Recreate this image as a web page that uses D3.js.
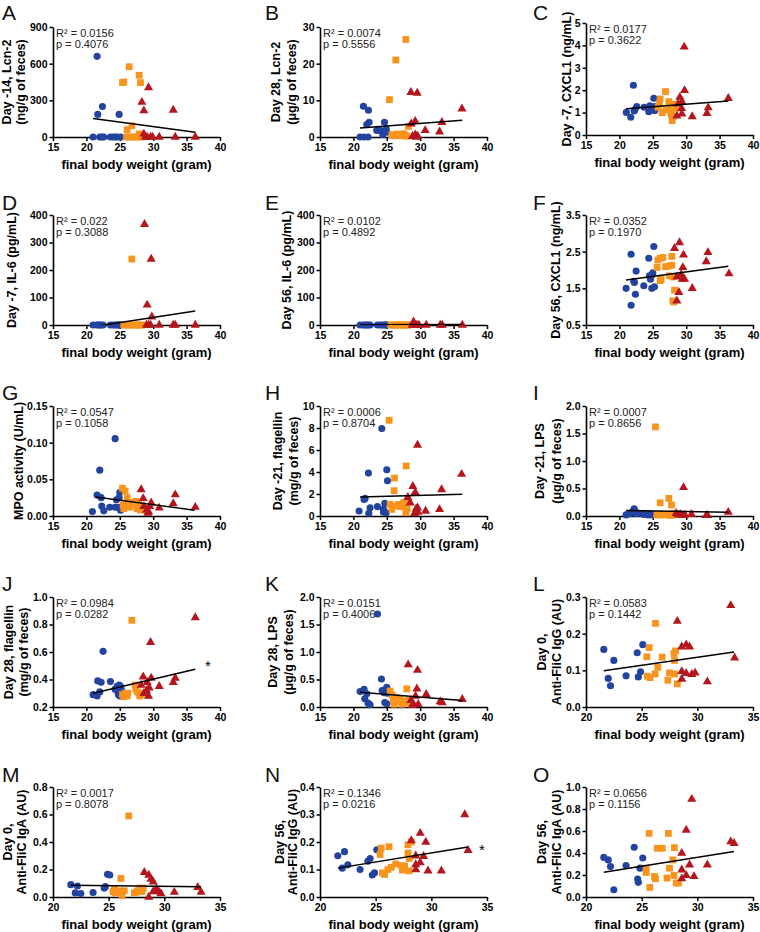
<!DOCTYPE html>
<html><head><meta charset="utf-8">
<script src="https://cdn.jsdelivr.net/npm/d3@7"></script>
<style>body{margin:0;background:#fff}</style>
</head><body><svg id="c" width="760" height="932"></svg>
<script>
// ---------------- DATA ----------------
const A_blue=[[21.6,660],[21.7,185],[22.4,250],[24.9,185],[21.0,0],[22.0,0],[22.3,0],[22.6,0],[23.6,0],[24.0,0],[24.3,0],[24.6,0],[25.1,0]];
const A_orange=[[26.4,575],[25.4,445],[25.6,450],[27.9,505],[28.1,445],[26.1,60],[26.8,92],[27.9,25],[28.1,18],[26.0,0],[26.4,0],[26.9,0],[27.3,0],[27.6,0],[28.3,0]];
const A_red=[[29.3,405],[28.3,285],[28.6,215],[33.0,220],[28.6,25],[28.8,0],[29.1,0],[29.6,0],[29.9,0],[30.9,0],[33.3,0],[36.3,0]];
const A_fit=[[21,152],[36.3,38]];

const B_blue=[[21.5,8.4],[22.25,7.3],[22.0,3.4],[22.35,4.0],[21.0,0],[21.6,0],[22.2,0],[23.5,1.8],[24.0,1.8],[24.65,4.0],[24.9,2.2],[25.0,1.3],[24.4,0.6]];
const B_orange=[[25.4,10.2],[26.35,21.0],[27.85,26.6],[28.25,2.9],[25.75,0.6],[26.15,0.3],[26.5,0.8],[26.85,0.6],[27.25,0.3],[27.5,0.9],[27.75,0.5],[28.0,0.2]];
const B_red=[[28.6,12.2],[29.55,12.0],[29.25,4.3],[28.65,3.6],[30.75,1.8],[32.9,1.4],[33.25,4.0],[36.25,7.7],[28.85,0.2],[29.25,0.6],[29.6,0.3],[29.4,0]];
const B_fit=[[21,2.46],[36.3,4.56]];

const C_blue=[[21.04,1.01],[21.7,0.79],[22.1,2.22],[22.2,1.07],[22.6,1.27],[23.7,1.24],[24.4,1.04],[24.55,1.3],[24.8,1.19],[24.9,1.12],[25.15,1.64],[25.2,1.27],[25.3,1.09],[22.3,1.12]];
const C_orange=[[26.1,1.61],[26.9,1.94],[25.8,1.24],[26.0,1.42],[26.4,1.0],[27.0,1.12],[27.4,1.49],[27.6,1.27],[27.7,1.0],[27.9,0.64],[28.0,0.82],[28.1,1.37],[27.8,0.9],[28.3,1.19]];
const C_red=[[29.7,3.93],[29.75,1.99],[29.05,1.69],[29.35,1.49],[28.6,0.85],[28.8,1.39],[29.3,1.19],[29.35,0.94],[30.9,0.82],[33.1,0.97],[33.3,1.22],[36.3,1.64]];
const C_fit=[[21,1.17],[36.3,1.52]];

const D_blue=[[21.0,0],[21.5,0],[21.8,0],[22.0,0],[22.2,0],[22.5,0],[23.6,0],[24.0,0],[24.3,0],[24.6,0],[24.8,0],[25.0,0],[25.1,0]];
const D_orange=[[26.8,240],[25.6,0],[26.0,0],[26.4,0],[26.8,0],[27.2,0],[27.6,0],[28.0,0],[28.3,0]];
const D_red=[[28.7,366],[29.7,240],[29.1,73],[29.8,30],[29.0,0],[29.3,0],[29.6,0],[30.9,0],[33.0,0],[33.3,0],[36.3,0]];
const D_fit=[[21,-6],[36.3,51]];

const E_blue=[[21.0,0],[21.5,0],[21.7,0],[22.0,0],[22.2,0],[22.5,0],[23.6,0],[24.0,0],[24.3,0],[24.6,0],[24.8,0],[25.0,0],[25.1,0]];
const E_orange=[[25.6,0],[25.9,0],[26.2,0],[26.5,0],[26.8,0],[27.1,0],[27.4,0],[27.7,0],[28.0,0],[28.3,0]];
const E_red=[[29.0,12],[28.8,0],[29.2,0],[29.5,0],[29.8,0],[30.9,0],[33.0,0],[33.3,0],[36.3,0]];
const E_fit=[[21,1],[36.3,2]];

const F_blue=[[21.0,1.5],[21.75,1.04],[21.75,2.43],[22.15,1.69],[22.25,1.66],[22.5,1.97],[22.4,1.34],[23.65,1.57],[24.4,2.32],[24.5,1.84],[24.65,1.75],[24.85,1.5],[25.0,1.92],[25.15,2.64],[25.25,1.54],[24.85,1.86]];
const F_orange=[[25.75,2.27],[25.65,2.07],[26.1,2.32],[26.5,2.34],[26.1,1.71],[26.9,2.09],[27.4,2.11],[27.85,2.13],[27.85,2.37],[27.5,1.84],[28.0,1.81],[28.25,1.45],[28.0,1.16],[28.15,1.13],[26.25,1.75]];
const F_red=[[28.25,2.59],[29.0,2.75],[29.6,2.41],[29.5,2.07],[28.6,1.81],[29.25,1.88],[29.4,1.75],[29.75,1.75],[28.9,1.39],[28.6,1.16],[30.9,1.5],[33.25,2.48],[33.0,2.23],[36.4,1.9]];
const F_fit=[[21,1.73],[36.3,2.1]];

const G_blue=[[20.9,0.006],[21.6,0.0285],[22.0,0.0625],[22.2,0.025],[22.3,0.0135],[22.6,0.007],[23.5,0.012],[24.3,0.1055],[24.3,0.012],[24.5,0.022],[24.8,0.012],[24.9,0.025],[25.0,0.032],[25.1,0.008]];
const G_orange=[[25.4,0.038],[25.5,0.015],[25.6,0.01],[25.8,0.034],[26.1,0.025],[26.2,0.018],[26.5,0.012],[26.8,0.015],[27.2,0.019],[27.4,0.02],[27.6,0.01],[27.8,0.017],[27.9,0.012],[28.1,0.008],[28.2,0.014]];
const G_red=[[28.2,0.036],[28.5,0.024],[28.6,0.013],[29.0,0.008],[29.2,0.004],[29.3,0.006],[29.5,0.013],[29.7,0.018],[30.9,0.011],[33.0,0.017],[33.3,0.029],[36.3,0.012]];
const G_fit=[[21.4,0.026],[36.2,0.008]];

const H_blue=[[20.85,0.45],[21.6,1.5],[21.75,1.6],[22.25,3.9],[22.3,0.25],[22.5,0.75],[23.6,0.85],[24.25,7.95],[24.5,0.35],[24.7,1.15],[25.0,4.2],[25.1,3.2],[24.9,0.3],[24.5,0.6]];
const H_orange=[[25.35,8.7],[26.15,3.45],[26.1,2.3],[27.9,4.55],[25.5,1.05],[25.75,0.6],[26.25,0.9],[26.75,1.05],[27.15,0.85],[27.5,1.2],[27.75,0.9],[27.85,0.3],[28.05,0.65],[28.05,1.35]];
const H_red=[[28.15,1.7],[28.5,1.2],[28.9,2.7],[29.25,2.15],[29.15,0.25],[29.4,0.65],[29.6,6.45],[29.6,0.75],[29.65,0.35],[30.8,0.45],[32.9,0.6],[33.2,2.4],[36.2,3.8]];
const H_fit=[[21,1.72],[36.3,1.97]];

const I_blue=[[21.0,0.02],[21.5,0.04],[21.8,0.06],[22.0,0.08],[22.2,0.13],[22.3,0.1],[22.5,0.04],[23.0,0.05],[23.6,0.03],[24.0,0.03],[24.3,0.02],[24.6,0.04],[24.9,0.02],[25.1,0.03]];
const I_orange=[[25.4,1.62],[26.1,0.24],[27.4,0.32],[27.8,0.2],[25.6,0.02],[26.0,0.02],[26.4,0.03],[26.8,0.02],[27.2,0.03],[27.6,0.01],[28.0,0.02],[28.2,0.05]];
const I_red=[[29.6,0.52],[28.5,0.05],[28.8,0.02],[29.1,0.03],[29.4,0.01],[29.8,0.02],[30.8,0.03],[33.0,0.01],[33.2,0.01],[36.3,0.07]];
const I_fit=[[21,0.1],[36.3,0.07]];

const J_blue=[[21.0,0.29],[21.6,0.28],[21.7,0.39],[22.0,0.31],[22.2,0.38],[22.5,0.605],[23.6,0.385],[24.3,0.33],[24.6,0.35],[24.7,0.31],[24.8,0.29],[24.9,0.36],[25.0,0.28],[25.1,0.35],[25.2,0.33]];
const J_orange=[[25.4,0.29],[25.6,0.275],[25.8,0.3],[26.1,0.28],[26.2,0.3],[26.8,0.83],[27.3,0.36],[27.4,0.33],[27.6,0.31],[27.9,0.3],[28.0,0.28],[28.2,0.29]];
const J_red=[[28.2,0.36],[28.5,0.42],[28.6,0.3],[29.0,0.32],[29.1,0.38],[29.3,0.28],[29.4,0.34],[29.6,0.67],[29.7,0.41],[30.9,0.35],[33.0,0.38],[33.3,0.41],[36.3,0.85]];
const J_fit=[[21,0.30],[36.3,0.475]];
const J_star=[38.2,0.51];

const K_blue=[[21.0,0.28],[21.6,0.32],[21.7,0.15],[22.0,0.24],[22.2,0.07],[22.5,0.04],[23.6,1.69],[24.2,0.51],[24.3,0.3],[24.6,0.26],[24.7,0.08],[24.9,0.33],[25.0,0.36],[25.1,0.25],[25.0,0.06]];
const K_orange=[[25.5,0.29],[25.8,0.22],[26.0,0.12],[26.1,0.05],[26.4,0.17],[26.8,0.1],[27.0,0.15],[27.3,0.05],[27.6,0.1],[27.9,0.08],[28.0,0.33],[28.2,0.12]];
const K_red=[[28.2,0.77],[28.6,0.12],[28.8,0.03],[29.0,0.05],[29.3,0.2],[29.5,0.33],[29.6,0.67],[29.7,0.05],[30.9,0.23],[33.0,0.1],[33.3,0.08],[36.3,0.14]];
const K_fit=[[21,0.27],[36.3,0.12]];

const L_blue=[[21.6,0.157],[22.0,0.078],[22.2,0.058],[22.5,0.127],[23.6,0.085],[24.6,0.148],[24.7,0.082],[24.9,0.096],[25.1,0.17]];
const L_orange=[[25.46,0.137],[25.5,0.084],[25.67,0.162],[25.76,0.08],[26.2,0.09],[26.24,0.228],[26.45,0.108],[26.84,0.136],[27.35,0.073],[27.5,0.093],[27.95,0.09],[27.9,0.146],[27.95,0.127],[28.04,0.153],[28.2,0.063]];
const L_red=[[28.2,0.234],[28.6,0.164],[28.6,0.076],[28.6,0.097],[29.0,0.17],[29.0,0.092],[29.3,0.164],[29.5,0.089],[29.8,0.093],[30.9,0.069],[33.0,0.277],[33.35,0.134]];
const L_fit=[[21.6,0.099],[33.3,0.150]];

const M_blue=[[21.6,0.09],[22.0,0.03],[22.2,0.08],[22.5,0.025],[23.6,0.033],[24.6,0.065],[24.7,0.075],[24.9,0.165],[25.1,0.16]];
const M_orange=[[25.4,0.04],[25.5,0.06],[25.6,0.03],[26.0,0.045],[26.1,0.135],[26.2,0.01],[26.4,0.045],[26.8,0.59],[27.3,0.03],[27.5,0.035],[27.6,0.045],[27.9,0.06],[28.0,0.04],[28.1,0.065],[27.8,0.065]];
const M_red=[[28.2,0.18],[28.6,0.16],[28.6,0.0],[28.8,0.13],[29.0,0.11],[29.0,0.04],[29.3,0.06],[29.5,0.04],[29.7,0.025],[30.9,0.035],[33.0,0.07],[33.3,0.035]];
const M_fit=[[21.6,0.085],[33.3,0.075]];

const N_blue=[[21.6,0.15],[22.0,0.105],[22.2,0.165],[22.5,0.117],[23.6,0.1],[24.3,0.13],[24.5,0.14],[24.7,0.08],[24.9,0.088],[25.1,0.172]];
const N_orange=[[25.4,0.155],[25.5,0.178],[25.6,0.088],[25.8,0.082],[26.1,0.1],[26.2,0.183],[26.4,0.108],[26.8,0.12],[27.3,0.114],[27.4,0.098],[27.6,0.112],[27.9,0.19],[27.9,0.16],[28.0,0.14],[28.0,0.095],[28.2,0.2]];
const N_red=[[28.2,0.205],[28.6,0.15],[28.6,0.1],[28.6,0.118],[29.0,0.232],[29.0,0.125],[29.3,0.148],[29.5,0.2],[29.7,0.095],[30.9,0.095],[33.0,0.3],[33.3,0.17]];
const N_fit=[[21.6,0.105],[33.3,0.182]];
const N_star=[34.55,0.18];

const O_blue=[[21.6,0.36],[22.0,0.337],[22.2,0.277],[22.5,0.066],[23.6,0.286],[24.33,0.452],[24.64,0.163],[24.7,0.133],[24.85,0.262],[25.1,0.355]];
const O_orange=[[25.4,0.262],[25.4,0.223],[25.67,0.578],[25.73,0.087],[26.15,0.187],[26.24,0.166],[26.4,0.443],[26.85,0.443],[27.27,0.172],[27.4,0.578],[27.5,0.262],[27.8,0.337],[27.94,0.449],[27.9,0.196],[28.1,0.127],[28.3,0.127]];
const O_red=[[28.6,0.398],[28.6,0.247],[28.6,0.166],[29.0,0.608],[29.0,0.196],[29.3,0.292],[29.5,0.889],[29.7,0.187],[30.9,0.292],[33.0,0.503],[33.3,0.488]];
const O_fit=[[21.6,0.226],[33.3,0.413]];

const xTicksWide=[15,20,25,30,35,40];
const xTicksNarrow=[20,25,30,35];
const xTitle='final body weight (gram)';

const panels=[
 {id:'A',xd:[15,40],xt:xTicksWide,yd:[0,900],yt:[0,300,600,900],yf:'d',yl:['Day -14, Lcn-2','(ng/g of feces)'],r2:'0.0156',p:'0.4076',b:A_blue,o:A_orange,r:A_red,fit:A_fit},
 {id:'B',xd:[15,40],xt:xTicksWide,yd:[0,30],yt:[0,10,20,30],yf:'d',yl:['Day 28, Lcn-2','(\u03bcg/g of feces)'],r2:'0.0074',p:'0.5556',b:B_blue,o:B_orange,r:B_red,fit:B_fit},
 {id:'C',xd:[15,40],xt:xTicksWide,yd:[0,5],yt:[0,1,2,3,4,5],yf:'d',yl:['Day -7, CXCL1 (ng/mL)'],r2:'0.0177',p:'0.3622',b:C_blue,o:C_orange,r:C_red,fit:C_fit},
 {id:'D',xd:[15,40],xt:xTicksWide,yd:[0,400],yt:[0,100,200,300,400],yf:'d',yl:['Day -7, IL-6 (pg/mL)'],r2:'0.022',p:'0.3088',b:D_blue,o:D_orange,r:D_red,fit:D_fit},
 {id:'E',xd:[15,40],xt:xTicksWide,yd:[0,400],yt:[0,100,200,300,400],yf:'d',yl:['Day 56, IL-6 (pg/mL)'],r2:'0.0102',p:'0.4892',b:E_blue,o:E_orange,r:E_red,fit:E_fit},
 {id:'F',xd:[15,40],xt:xTicksWide,yd:[0.5,3.5],yt:[0.5,1.5,2.5,3.5],yf:'.1f',yl:['Day 56, CXCL1 (ng/mL)'],r2:'0.0352',p:'0.1970',b:F_blue,o:F_orange,r:F_red,fit:F_fit},
 {id:'G',xd:[15,40],xt:xTicksWide,yd:[0,0.15],yt:[0,0.05,0.10,0.15],yf:'.2f',yl:['MPO activity (U/mL)'],r2:'0.0547',p:'0.1058',b:G_blue,o:G_orange,r:G_red,fit:G_fit},
 {id:'H',xd:[15,40],xt:xTicksWide,yd:[0,10],yt:[0,2,4,6,8,10],yf:'d',yl:['Day -21, flagellin','(mg/g of feces)'],r2:'0.0006',p:'0.8704',b:H_blue,o:H_orange,r:H_red,fit:H_fit},
 {id:'I',xd:[15,40],xt:xTicksWide,yd:[0,2],yt:[0,0.5,1,1.5,2],yf:'.1f',yl:['Day -21, LPS','(\u03bcg/g of feces)'],r2:'0.0007',p:'0.8656',b:I_blue,o:I_orange,r:I_red,fit:I_fit},
 {id:'J',xd:[15,40],xt:xTicksWide,yd:[0.2,1.0],yt:[0.2,0.4,0.6,0.8,1.0],yf:'.1f',yl:['Day 28, flagellin','(mg/g of feces)'],r2:'0.0984',p:'0.0282',b:J_blue,o:J_orange,r:J_red,fit:J_fit,star:J_star},
 {id:'K',xd:[15,40],xt:xTicksWide,yd:[0,2],yt:[0,0.5,1,1.5,2],yf:'.1f',yl:['Day 28, LPS','(\u03bcg/g of feces)'],r2:'0.0151',p:'0.4006',b:K_blue,o:K_orange,r:K_red,fit:K_fit},
 {id:'L',xd:[20,35],xt:xTicksNarrow,yd:[0,0.3],yt:[0,0.1,0.2,0.3],yf:'.1f',yl:['Day 0,','Anti-FliC IgG (AU)'],r2:'0.0583',p:'0.1442',b:L_blue,o:L_orange,r:L_red,fit:L_fit},
 {id:'M',xd:[20,35],xt:xTicksNarrow,yd:[0,0.8],yt:[0,0.2,0.4,0.6,0.8],yf:'.1f',yl:['Day 0,','Anti-FliC IgA (AU)'],r2:'0.0017',p:'0.8078',b:M_blue,o:M_orange,r:M_red,fit:M_fit},
 {id:'N',xd:[20,35],xt:xTicksNarrow,yd:[0,0.4],yt:[0,0.1,0.2,0.3,0.4],yf:'.1f',yl:['Day 56,','Anti-FliC IgG (AU)'],r2:'0.1346',p:'0.0216',b:N_blue,o:N_orange,r:N_red,fit:N_fit,star:N_star},
 {id:'O',xd:[20,35],xt:xTicksNarrow,yd:[0,1],yt:[0,0.2,0.4,0.6,0.8,1.0],yf:'.1f',yl:['Day 56,','Anti-FliC IgA (AU)'],r2:'0.0656',p:'0.1156',b:O_blue,o:O_orange,r:O_red,fit:O_fit}
];

// ---------------- LAYOUT ----------------
const colX=[53,320,586], colW=167;
const rowY=[27,215,406,597,787], rowH=110;
const letterX=[2,265,533], letterY=[20,210,400,591,782];
const ylOff={A:[-42,-28],B:[-40,-24],C:[-15],D:[-37],E:[-29],F:[-26],G:[-30],H:[-38,-22],I:[-42,-25],J:[-40,-25],K:[-43,-27],L:[-40,-25],M:[-41,-27],N:[-36,-23],O:[-40,-25]};
const override={C:{top:-4,h:2}};
const FONT='"Liberation Sans", Arial, Helvetica, sans-serif';
const COL={b:'#2343a0',o:'#f7941d',r:'#b5161e'};

const svg=d3.select('#c');
svg.append('rect').attr('width',760).attr('height',932).attr('fill','#fff');

panels.forEach((p,i)=>{
  const col=i%3,row=Math.floor(i/3);
  const ov=override[p.id]||{};
  const x0=colX[col], y0=rowY[row]+(ov.top||0), h=rowH+(ov.h||0);
  const x=d3.scaleLinear().domain(p.xd).range([x0,x0+colW]);
  const y=d3.scaleLinear().domain(p.yd).range([y0+h,y0]);
  const g=svg.append('g');

  svg.append('text').attr('x',letterX[col]).attr('y',letterY[row]).text(p.id)
    .attr('font-family',FONT).attr('font-size',21).attr('fill','#111');

  const ya=g.append('g').attr('transform',`translate(${x0},0)`)
    .call(d3.axisLeft(y).tickValues(p.yt).tickSize(3.5).tickSizeOuter(0).tickPadding(2).tickFormat(d3.format(p.yf)));
  const xa=g.append('g').attr('transform',`translate(0,${y0+h})`)
    .call(d3.axisBottom(x).tickValues(p.xt).tickSize(4).tickSizeOuter(0).tickPadding(2.5).tickFormat(d3.format('d')));
  [ya,xa].forEach(a=>{
    a.select('.domain').attr('stroke','#000').attr('stroke-width',1.6);
    a.selectAll('.tick line').attr('stroke','#000').attr('stroke-width',1.5);
    a.selectAll('.tick text').attr('font-family',FONT).attr('font-size',10.5).attr('font-weight','bold').attr('fill','#000');
  });

  g.append('text').attr('x',x0+colW/2).attr('y',y0+h+32).attr('text-anchor','middle')
    .attr('font-family',FONT).attr('font-size',13).attr('font-weight','bold').text(xTitle);
  const mid=y0+h/2;
  p.yl.forEach((t,k)=>{
    const xx=x0+ylOff[p.id][k];
    g.append('text').attr('x',xx).attr('y',mid).attr('text-anchor','middle')
      .attr('transform',`rotate(-90,${xx},${mid})`)
      .attr('font-family',FONT).attr('font-size',12.5).attr('font-weight','bold').text(t);
  });

  const st=g.append('g').attr('font-family',FONT).attr('font-size',11).attr('fill','#222');
  st.append('text').attr('x',x0+3).attr('y',y0+10).text('R\u00b2 = '+p.r2);
  st.append('text').attr('x',x0+3).attr('y',y0+21).text('p = '+p.p);

  const sym=(type,size)=>d3.symbol().type(type).size(size)();
  const groups=[[p.b,d3.symbolCircle,40,COL.b],[p.o,d3.symbolSquare,46,COL.o],[p.r,d3.symbolTriangle,36,COL.r]];
  groups.forEach(([data,type,size,c])=>{
    g.append('g').selectAll('path').data(data).join('path')
      .attr('d',sym(type,size)).attr('fill',c)
      .attr('transform',d=>`translate(${x(d[0])},${y(d[1])})`);
  });

  const cid='clip'+p.id;
  svg.append('clipPath').attr('id',cid).append('rect').attr('x',x0).attr('y',y0).attr('width',colW).attr('height',h);
  g.append('path').datum(p.fit).attr('clip-path',`url(#${cid})`)
    .attr('d',d3.line().x(d=>x(d[0])).y(d=>y(d[1])))
    .attr('stroke','#000').attr('stroke-width',1.5).attr('fill','none');

  if(p.star){
    g.append('text').attr('x',x(p.star[0])).attr('y',y(p.star[1])+7).attr('text-anchor','middle')
      .attr('font-family',FONT).attr('font-size',15).attr('fill','#000').text('*');
  }
});
</script>
</body></html>
